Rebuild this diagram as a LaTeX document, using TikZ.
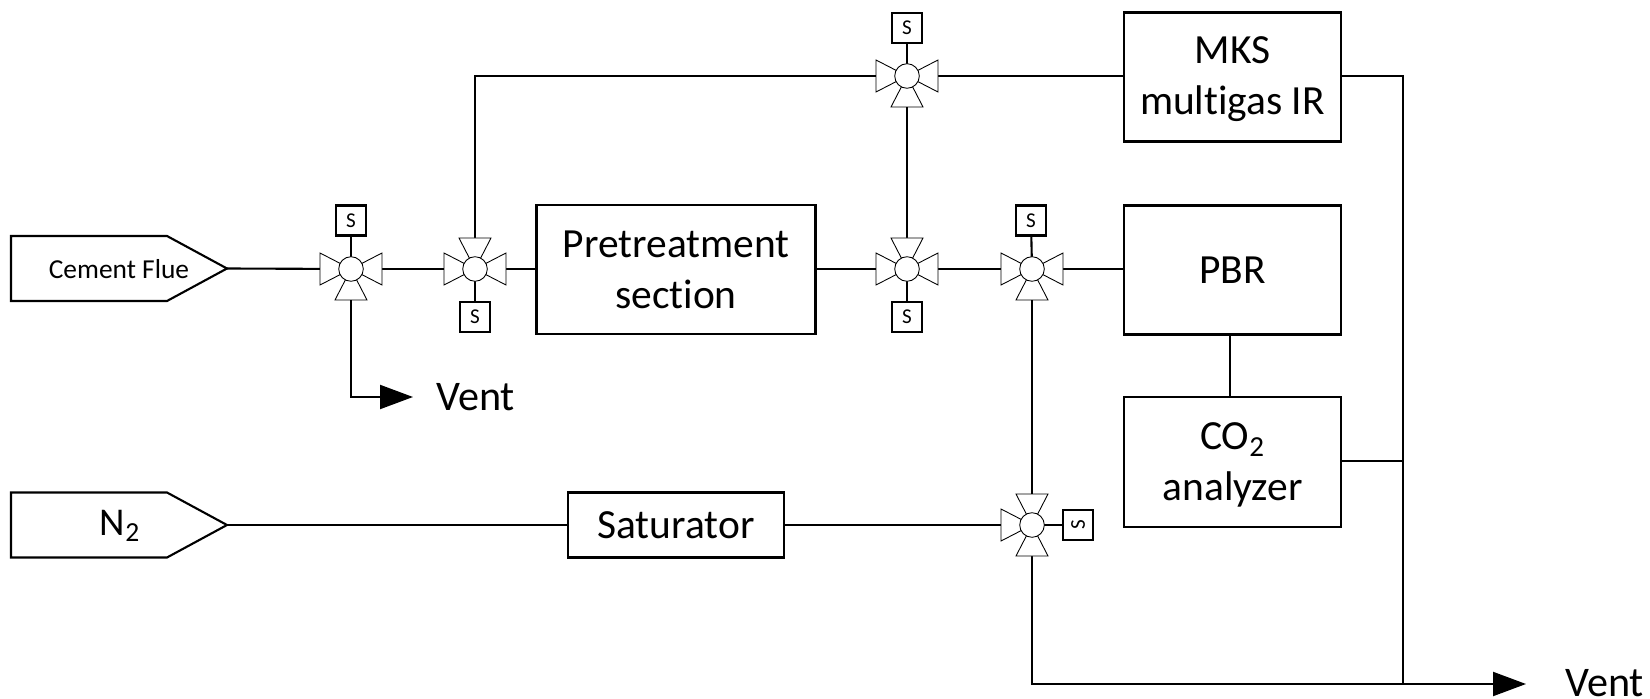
\documentclass[tikz,border=0pt]{standalone}
\usepackage{fontspec}
\setmainfont[Ligatures=NoCommon]{Carlito}
\usetikzlibrary{arrows.meta,backgrounds}
\tikzset{
	procbox/.style={draw, line width=1.2pt, fill=white, align=center, inner sep=0pt, font=\fontsize{23.6}{29}\selectfont},
	sbox/.style={draw, line width=1.2pt, fill=white, minimum size=30*0.02cm, inner sep=0pt, font=\fontsize{12}{14}\selectfont},
	hub/.style={draw, line width=.5pt, fill=white, circle, minimum size=24.6*0.02cm, inner sep=0pt},
	ventlabel/.style={anchor=west, inner sep=0pt, font=\fontsize{24}{29}\selectfont},
	pipe/.style={line width=1.2pt},
	flow/.style={pipe, -{Triangle[length=33*0.02cm, width=24*0.02cm]}}
}
\begin{document}
\begin{tikzpicture}[x=0.02cm, y=-0.02cm]
	\useasboundingbox (0,0) rectangle (1650,699);

	% the two feeds
	\foreach \yc in {268.5,525}
		\draw[pipe, line join=miter] (11,\yc-32.5) -- (167,\yc-32.5) -- (227,\yc) -- (167,\yc+32.5) -- (11,\yc+32.5) -- cycle;
	\node[font=\fontsize{15.6}{18}\selectfont] (cement) at (119,269) {Cement Flue};
	\node[font=\fontsize{22.4}{26}\selectfont] (nitrogen) at (120,526) {N\textsubscript{2}};
	\coordinate (cementtip) at (227,268.5);
	\coordinate (nitrogentip) at (227,525);

	\node[procbox, text depth=-2.2pt, minimum width=279*0.02cm, minimum height=129*0.02cm] (pretreat) at (676,269.5) {Pretreatment\\section};
	\node[procbox, text depth=1.8pt, minimum width=217*0.02cm, minimum height=129*0.02cm] (mks) at (1232.5,77) {MKS\\multigas IR};
	\node[procbox, minimum width=217*0.02cm, minimum height=129*0.02cm] (pbr) at (1232.5,270) {PBR};
	\node[procbox, text depth=0pt, minimum width=217*0.02cm, minimum height=130*0.02cm] (analyzer) at (1232.5,462) {CO\textsubscript{2}\\analyzer};
	\node[procbox, minimum width=216*0.02cm, minimum height=65*0.02cm] (saturator) at (676,525) {Saturator};

	% valves, arms given by angle
	\foreach \name/\xc/\yc/\arms in {vone/351/269/{0,180,270}, vtwo/475/269/{0,90,180}, vtop/907/76/{0,180,270}, vmid/907/269/{0,90,180}, vpbr/1032/269/{0,180,270}, vlow/1032/525/{90,180,270}}{
		\foreach \arm in \arms
			\draw[line width=.5pt, fill=white, rotate around={\arm:(\xc,\yc)}] (\xc,\yc) -- ++(31,16) -- ++(0,-32) -- cycle;
		\node[hub] (\name) at (\xc,\yc) {};
	}

	\node[sbox] (sone) at (351,220.5) {S};
	\node[sbox] (stwo) at (475,317) {S};
	\node[sbox] (stop) at (907,28) {S};
	\node[sbox] (smid) at (907,317) {S};
	\node[sbox] (spbr) at (1031,220.5) {S};
	\node[sbox, rotate=90] (slow) at (1078,525) {S};

	\node[ventlabel] (ventone) at (436,397) {Vent};
	\node[ventlabel] (venttwo) at (1565,683) {Vent};

	\coordinate (ventonea) at (351,397);
	\coordinate (ventoneb) at (413,397);
	\coordinate (corner) at (475,76);
	\coordinate (bustop) at (1403,76);
	\coordinate (busco) at (1403,461);
	\coordinate (busend) at (1403,684);
	\coordinate (lowcorner) at (1032,684);
	\coordinate (tip) at (1526,684);
	\coordinate (linkup) at (1230,335);
	\coordinate (linkdown) at (1230,397);

	\begin{pgfonlayer}{background}
		\draw[pipe] (cementtip) -- (vone.center);
		\draw[pipe] (vone.center) -- (vtwo.center);
		\draw[pipe] (vtwo.center) -- (vtwo.center -| pretreat.west);
		\draw[pipe] (pretreat.east |- vmid) -- (vmid.center);
		\draw[pipe] (vmid.center) -- (vpbr.center);
		\draw[pipe] (vpbr.center) -- (vpbr.center -| pbr.west);
		\draw[pipe] (vtwo.center) -- (corner) -- (vtop.center);
		\draw[pipe] (vtop.center) -- (vtop.center -| mks.west);
		\draw[pipe] (vtop.center) -- (vmid.center);
		\draw[pipe] (vpbr.center) -- (vlow.center);
		\draw[pipe] (nitrogentip) -- (saturator.west);
		\draw[pipe] (saturator.east) -- (vlow.center);
		\draw[pipe] (linkup) -- (linkdown);
		\draw[pipe] (bustop -| mks.east) -- (bustop) -- (busend);
		\draw[pipe] (busco -| analyzer.east) -- (busco);
		\draw[flow] (vone.center) -- (ventonea) -- (ventoneb);
		\draw[flow] (vlow.center) -- (lowcorner) -- (tip);
		% stems to the S boxes
		\draw[pipe] (vone.center) -- (sone);
		\draw[pipe] (vtwo.center) -- (stwo);
		\draw[pipe] (vtop.center) -- (stop);
		\draw[pipe] (vmid.center) -- (smid);
		\draw[pipe] (vpbr.center) -- (spbr);
		\draw[pipe] (vlow.center) -- (slow);
	\end{pgfonlayer}
\end{tikzpicture}
\end{document}
